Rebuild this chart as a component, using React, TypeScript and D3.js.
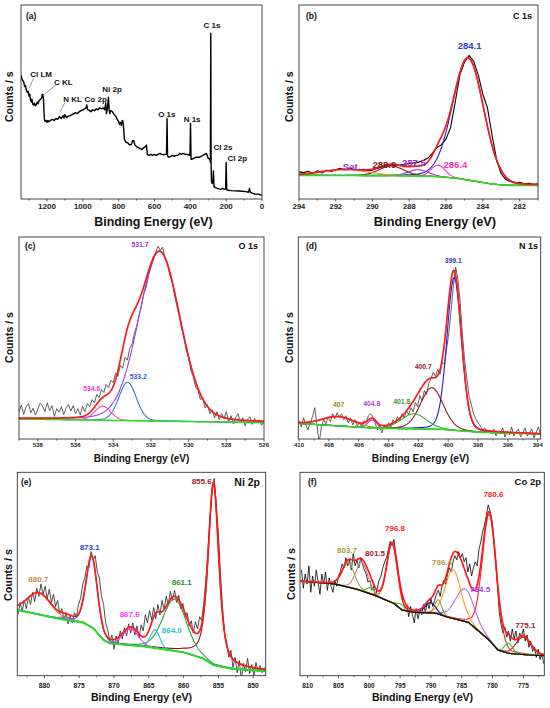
import React from "react";
import * as d3 from "d3";

const FONT = "'Liberation Sans', Arial, Helvetica, sans-serif";

// ---------------- (a) survey ----------------
const surveyEV = [1345,1340,1335,1330,1325,1320,1315,1310,1305,1300,1296,1292,1288,1284,1280,1275,1270,1265,1260,1255,1250,1245,1240,1235,1230,1226,1222,1219,1217,1214,1210,1205,1200,1195,1190,1180,1170,1160,1150,1140,1130,1120,1110,1105,1100,1090,1080,1070,1060,1050,1040,1030,1020,1010,1000,990,982,978,974,965,955,945,935,925,915,905,895,885,878,872,868,862,857,853,849,845,835,825,815,808,800,795,790,785,780,776,772,768,762,750,740,730,722,715,710,700,690,680,670,660,650,645,640,630,620,610,600,590,580,570,560,550,540,533,530,527,520,510,500,490,480,470,460,450,440,430,420,410,402,399,396,390,380,370,360,350,340,330,320,310,300,292,288,286,284,282,278,274,271,268,262,250,240,230,220,210,203,200,197,190,170,150,130,110,90,75,70,65,55,40,25,10,0];
const surveyCounts = [64,62,61,60.5,58,58.5,56,55,55.5,53,54,51,50,51.5,49,48.5,49.5,48,48.5,50,49,50.5,51,51.5,52,54,53.5,51,45,41,40,40.5,39.5,40.5,39.8,40.5,41,40.5,41.5,41,42.5,41.5,43,41.8,43.5,42,42.8,43,43.5,44,44.5,44,45,45.5,46,46.5,47,48.5,46,45.8,45,46,45.5,46.5,46,47,46.5,47,46,49.5,44,47,52.5,46,44,45.5,45,43.5,42.5,41,40,38.5,39.5,38,40.5,40,36,31,29.5,29,28,28,30,30,28,27,26.5,26,25.5,26.5,27,27.8,23,22.5,23,22.5,23,22.5,23,23.5,23,22.8,23,23,41.5,22,21.5,22,22.5,22,22.5,22.5,23.5,23,23.5,23,23,22.8,22.5,39,20.5,20.5,21,21.5,21.5,21.5,22,22.5,23,23.5,21,20.5,19,85.5,18,9,8,9,14.5,6.5,6,5.5,5.2,5,5.5,5,5.2,19,4.8,4.5,4.3,4.2,4.1,4,3.8,3.5,5.5,3.5,3,2.6,2.5,2.2,2];
const surveyLabels = ["Cl LM", "C KL", "N KL", "Co 2p", "Ni 2p", "O 1s", "N 1s", "C 1s", "Cl 2s", "Cl 2p"];
const surveyLabelEV = [1233, 1109, 1057, 928, 837, 531, 390, 279, 218, 138];
const surveyLabelVal = [63, 58.8, 50.2, 50.2, 55.4, 42.5, 39.8, 88, 25.5, 19.8];
const surveyArrowFromEV = [1276, 1150, 1099];
const surveyArrowFromVal = [62.2, 58.8, 49.8];
const surveyArrowToEV = [1299, 1224, 1127];
const surveyArrowToVal = [57.1, 53.2, 45];

// ---------------- (b) C 1s ----------------
const c1sStart = 294, c1sStep = 0.25;
const c1sCounts = [14.0,13.6,14.3,13.2,14.5,13.4,14.8,14.2,15.1,15.8,
  15.0,16.0,15.2,14.8,15.3,14.6,14.9,15.8,16.4,17.2,
  17.6,17.0,17.5,17.9,18.3,18.6,19.0,19.8,21.0,23.5,
  26.5,28.0,31.0,37.0,50.0,64.0,70.5,74.0,71.0,64.0,
  54.0,47.0,33.0,20.0,13.0,10.0,9.0,8.2,8.6,7.8,
  8.1,7.6,7.9];
const c1sBgEV = [294, 289, 286.8, 285.5, 284.4, 283.5, 282.6, 281];
const c1sBgVal = [12.2, 12.0, 11.7, 10.8, 9.1, 7.7, 7.0, 7.0];
const c1sCenters = [284.8, 286.43, 287.52, 288.97, 291.5];
const c1sHeights = [63, 6, 3.3, 5, 3];
const c1sFwhm = [2.0, 0.9, 1.3, 1.6, 3.0];
const c1sLabels = ["284.1", "Sat.", "288.9", "287.5", "286.4"];
const c1sLabelEV = [284.72, 291.14, 289.36, 287.75, 285.49];
const c1sLabelVal = [77.3, 14.7, 15.8, 17.0, 15.8];

// ---------------- (c) O 1s ----------------
const o1sStart = 539, o1sStep = 0.125;
const o1sCounts = [13.5,16.8,12.2,15.9,17.5,13.0,15.2,11.8,14.9,17.8,
  16.2,13.5,17.9,14.0,16.5,11.2,15.0,13.2,16.0,12.0,
  15.5,17.0,13.8,16.5,12.5,15.0,11.8,16.2,13.5,17.5,
  16.0,19.5,18.0,22.0,20.5,24.5,23.0,27.0,25.5,29.0,
  28.0,32.5,31.0,36.5,35.0,40.5,39.0,45.0,47.0,52.5,
  56.0,61.5,66.0,72.0,75.0,81.0,85.0,88.5,92.0,95.5,
  93.5,95.0,89.0,87.5,81.0,78.0,71.5,66.0,61.0,55.0,
  50.5,44.0,40.5,33.5,31.0,25.5,24.0,19.5,20.5,15.5,
  17.0,12.5,14.5,10.5,13.5,9.5,12.5,10.0,13.5,8.5,
  11.5,7.5,10.8,12.5,8.0,10.5,6.5,9.8,11.0,7.2,
  10.2,8.0,9.5,6.8,9.0];
const o1sBgEV = [539, 526];
const o1sBgVal = [9.9, 8.1];
const o1sCenters = [531.55, 533.24, 534.56];
const o1sHeights = [84, 19, 7];
const o1sFwhm = [2.6, 1.09, 1.0];
const o1sLabels = ["531.7", "533.2", "534.6"];
const o1sLabelEV = [532.58, 532.67, 535.14];
const o1sLabelVal = [95.2, 29.5, 23.9];

// ---------------- (d) N 1s ----------------
const n1sStart = 410, n1sStep = 0.15;
const n1sCounts = [9,6,10.5,7,4.5,8,11,15.5,7,-2,
  6,9.5,7.5,11,8.5,12.5,10,13,11,12.5,
  9.5,11.5,8,10.5,7,9.5,6.5,8,6,9,
  8.5,11.5,12.5,11,8,4.5,7,3,6.5,5,
  8,6,9.5,8,11,9,12.5,10.5,14,12,
  15.5,13.5,18,16,21.5,19,24,22,27.5,30,
  33,31,34.5,32,38,37,45,53,64,76,
  85,79,68,52,39,30,21,17,12.5,10,
  8,6.5,4.5,5.5,3,4.5,2.5,5,1.5,4,
  2.5,5.5,1,4,2,6,1.5,3.5,5,1,
  3,5.5,1.5,3,5,0.5,3.5,6,2];
const n1sBgEV = [410.05, 404.9, 400.5, 397.8, 393.8];
const n1sBgVal = [7.7, 5.3, 4.8, 3.3, 2.5];
const n1sCenters = [399.6, 401.1, 402.3, 405.1, 407.4];
const n1sHeights = [75.5, 20.5, 7.5, 4, 4.5];
const n1sFwhm = [1.15, 1.8, 2.0, 0.7, 2.5];
const n1sLabels = ["399.1", "400.7", "401.8", "404.8", "407"];
const n1sLabelEV = [399.66, 401.67, 403.12, 405.13, 407.34];
const n1sLabelVal = [87, 34.8, 17.3, 16.5, 15.7];

// ---------------- (e) Ni 2p ----------------
const ni2pStart = 883.8, ni2pStep = 0.3;
const ni2pCounts = [30,36,31.5,37,33,38.5,35,41,36.5,43,
  39,45,40,44,38,42.5,36,40,34,37,
  30.5,33,27.5,31,25.5,29.5,26,31,29,35,
  38,45,48,54,53,61,57,59,51,48,
  39,35,26,22.5,17,20,13,19.5,16,22,
  18,23.5,19.5,25.5,21,26,20,24.5,18.5,25,
  22,30,26,32,27.5,33.5,28,35,30,37,
  32.5,39,35,41.5,37,42,36,39.5,33,35.5,
  29,31,24.5,27,21,26.5,23,29,27,36,
  47,62,78,92,97,84,70,50,33,21,
  16,9,12.5,4,9,1.5,7.5,-1.5,6,2,
  8.5,1,5.5,0,6.5,2,5,1.5,4];
const ni2pBgEV = [883.9, 877.3, 874.4, 873, 871.5, 870.6, 865.5, 860, 857.2, 855.7, 852.9, 848.2];
const ni2pBgVal = [32.3, 27.6, 26.1, 23.3, 17.5, 15.9, 14.3, 11.5, 8.5, 5.2, 3.3, 2.3];
const ni2pCenters = [855.7, 861.3, 864.1, 867.6, 873.2, 880.8, 876.8];
const ni2pHeights = [89, 25.5, 9, 8, 35, 10.5, 1.5];
const ni2pFwhm = [1.8, 4.0, 1.6, 2.6, 1.9, 4.0, 2.0];
const ni2pMix = [0.55, 0.2, 0.1, 0.1, 0.25, 0.1, 0.1];
const ni2pLabels = ["855.6", "873.1", "880.7", "861.1", "867.6", "864.0"];
const ni2pLabelEV = [857.4, 873.5, 880.88, 860.27, 867.75, 861.7];
const ni2pLabelVal = [94.1, 61.8, 45.9, 44.6, 29, 20.8];

// ---------------- (f) Co 2p ----------------
const co2pStart = 811.0, co2pStep = 0.3;
const co2pCounts = [52,43,50,45,54,41,49,44,52,46,
  40,50,45,51,42,48,44,41,47,44,
  49,51,55,53,58,54,57,52,60,54,
  57,53,58,55,52,50,46,47,42,44,
  39,43,47,49,53,56,58,62,66,64,
  67,60,54,46,40,36,33,35,29,34,
  30,26,33,28,32,30,35,31,36,33,
  38,34,37,40,42,39,44,47,45,50,
  53,51,56,59,57,61,58,60,56,58,
  51,55,49,53,56,54,62,66,71,74,
  79,84,81,76,68,57,44,31,25,21,
  24,19,22,17,23,18,22,16,21,19,
  23,17,20,14,17,12,14,9,13,8,
  11,6];
const co2pBgEV = [811.24, 805.6, 802, 799.1, 796, 794.7, 792.6, 789.3, 787.2, 783.9, 780.7, 779.1, 777.4, 774.2, 771.6];
const co2pBgVal = [46.5, 45.1, 42.5, 39.5, 35.5, 32.3, 31.1, 30.8, 28.7, 26.2, 17.9, 12.6, 11, 10.2, 9.8];
const co2pCenters = [780.5, 784.5, 786.4, 788.8, 790.1, 794.8, 796.3, 799.8, 801.2, 803.4, 777.4, 775.0];
const co2pHeights = [62, 16, 24, 7, 5, 2.5, 29, 3, 14, 12, 5, 8.5];
const co2pFwhm = [2.7, 3.6, 3.0, 1.3, 2.0, 1.5, 2.0, 1.5, 2.3, 2.3, 1.5, 2.8];
const co2pLabels = ["780.6", "796.8", "803.7", "801.5", "786.4", "784.5", "775.1"];
const co2pLabelEV = [779.86, 795.82, 803.61, 799.07, 788.19, 782.02, 774.67];
const co2pLabelVal = [88, 71.3, 60.5, 59, 54.4, 41.3, 23.3];

// ---------------- styles ----------------
const c1sColors = ["#1c1cd6", "#ff33cc", "#9b30d9", "#8b1a1a", "#ff8c3a"];
const c1sLabelColors = ["#2b3fd6", "#9933cc", "#8b1a2a", "#a020c0", "#ff33cc"];
const o1sColors = ["#9a3cf0", "#2b7fc8", "#ff3fbf"];
const o1sLabelColors = ["#9933cc", "#3355dd", "#ff33cc"];
const n1sColors = ["#1a1ae6", "#8b1a1a", "#2cb52c", "#b040e0", "#a08a20"];
const n1sLabelColors = ["#3333cc", "#a01c2c", "#2ca02c", "#b040e0", "#a08a20"];
const ni2pColors = ["#8b0f1a", "#2e9a40", "#20c8c8", "#ff33ff", "#1f77d4", "#d0803a", "#a050e0"];
const ni2pLabelColors = ["#a01c2c", "#2b3fd6", "#c09040", "#2e8b30", "#ff33ff", "#20c8c8"];
const co2pColors = ["#ff2020", "#b070e0", "#ff9a20", "#a0a020", "#0a0a9a", "#20d020", "#ff2020", "#20d020", "#c08a8a", "#9a9a40", "#20d020", "#c02030"];
const co2pLabelColors = ["#ff2020", "#ff2020", "#a0a030", "#a02030", "#b0a040", "#a040ff", "#a02030"];

function pv(x: number, c: number, h: number, w: number, eta: number) {
  const d = x - c;
  const r = (d * d) / (w * w);
  return h * ((1 - eta) * Math.exp(-4 * Math.LN2 * r) + eta / (1 + 4 * r));
}

type Comp = { c: number; h: number; w: number; eta: number; color: string };
type Lab = { text: string; ev: number; val: number; color: string };
type Spec = {
  id: string;
  box: { l: number; r: number; t: number; b: number };
  domain: [number, number];
  major: number;
  minor: number;
  tickFont: number;
  tickBase: number;
  xTitle: [number, number, number];
  yTitle: [number, number, number];
  tag: string;
  tagPos: [number, number];
  title?: string;
  titlePos?: [number, number];
  titleSize?: number;
  raw: [number, number][];
  rawColor: string;
  rawWidth: number;
  bg?: { ev: number[]; val: number[]; color: string; width: number };
  comps?: Comp[];
  envelope?: string;
  labels: Lab[];
  labelSize: number;
  arrows?: { x1: number; y1: number; x2: number; y2: number }[];
};

function Panel({ s }: { s: Spec }) {
  const { box } = s;
  const x = d3.scaleLinear().domain(s.domain).range([box.l, box.r]);
  const y = d3.scaleLinear().domain([0, 100]).range([box.b, box.t]);
  const lo = Math.min(s.domain[0], s.domain[1]);
  const hi = Math.max(s.domain[0], s.domain[1]);
  const majors = d3.range(Math.ceil(lo / s.major - 1e-9) * s.major, hi + 1e-9, s.major);
  const minors = d3
    .range(Math.ceil(lo / s.minor - 1e-9) * s.minor, hi + 1e-9, s.minor)
    .filter((v) => Math.abs(v / s.major - Math.round(v / s.major)) > 1e-6);
  const line = d3
    .line<[number, number]>()
    .x((d) => x(d[0]))
    .y((d) => y(d[1]));
  const n = 500;
  const xs = d3.range(n + 1).map((i) => lo + ((hi - lo) * i) / n);
  let bgF: ((v: number) => number) | null = null;
  if (s.bg) {
    const sc = d3.scaleLinear().domain(s.bg.ev).range(s.bg.val).clamp(true);
    bgF = (v: number) => sc(v);
  }
  const bgAt = (v: number) => (bgF ? bgF(v) : 0);
  const comps = s.comps || [];
  const clip = `clip-${s.id}`;
  return (
    <g>
      <defs>
        <clipPath id={clip}>
          <rect x={box.l} y={box.t} width={box.r - box.l} height={box.b - box.t} />
        </clipPath>
      </defs>
      <g clipPath={`url(#${clip})`}>
        <path d={line(s.raw) || ""} fill="none" stroke={s.rawColor} strokeWidth={s.rawWidth} strokeLinejoin="round" />
        {comps.map((c, i) => (
          <path
            key={i}
            d={line(xs.map((v) => [v, bgAt(v) + pv(v, c.c, c.h, c.w, c.eta)] as [number, number])) || ""}
            fill="none"
            stroke={c.color}
            strokeWidth={1.1}
          />
        ))}
        {s.bg && (
          <path
            d={line(xs.map((v) => [v, bgAt(v)] as [number, number])) || ""}
            fill="none"
            stroke={s.bg.color}
            strokeWidth={s.bg.width}
          />
        )}
        {s.envelope && (
          <path
            d={
              line(
                xs.map(
                  (v) =>
                    [v, bgAt(v) + d3.sum(comps, (c) => pv(v, c.c, c.h, c.w, c.eta))] as [number, number]
                )
              ) || ""
            }
            fill="none"
            stroke={s.envelope}
            strokeWidth={1.7}
          />
        )}
      </g>
      <rect x={box.l} y={box.t} width={box.r - box.l} height={box.b - box.t} fill="none" stroke="#333" strokeWidth={0.9} />
      {majors.map((v) => (
        <g key={"M" + v}>
          <line x1={x(v)} x2={x(v)} y1={box.b} y2={box.b + 2.5} stroke="#333" strokeWidth={0.8} />
          <text x={x(v)} y={s.tickBase} fontSize={s.tickFont} fontWeight="bold" textAnchor="middle" fill="#222">
            {d3.format("d")(v)}
          </text>
        </g>
      ))}
      {minors.map((v) => (
        <line key={"m" + v} x1={x(v)} x2={x(v)} y1={box.b} y2={box.b + 1.6} stroke="#333" strokeWidth={0.7} />
      ))}
      <text x={s.xTitle[0]} y={s.xTitle[1]} fontSize={s.xTitle[2]} fontWeight="bold" textAnchor="middle" fill="#111">
        Binding Energy (eV)
      </text>
      <text
        transform={`translate(${s.yTitle[0]},${s.yTitle[1]}) rotate(-90)`}
        fontSize={s.yTitle[2]}
        fontWeight="bold"
        textAnchor="middle"
        fill="#111"
      >
        Counts / s
      </text>
      <text x={s.tagPos[0]} y={s.tagPos[1]} fontSize={8.5} fontWeight="bold" fill="#111">
        {s.tag}
      </text>
      {s.title && s.titlePos && (
        <text x={s.titlePos[0]} y={s.titlePos[1]} fontSize={s.titleSize} fontWeight="bold" textAnchor="end" fill="#111">
          {s.title}
        </text>
      )}
      {s.labels.map((l, i) => (
        <text key={"l" + i} x={x(l.ev)} y={y(l.val)} fontSize={s.labelSize} fontWeight="bold" textAnchor="middle" fill={l.color}>
          {l.text}
        </text>
      ))}
      {(s.arrows || []).map((a, i) => (
        <line key={"a" + i} x1={x(a.x1)} y1={y(a.y1)} x2={x(a.x2)} y2={y(a.y2)} stroke="#555" strokeWidth={0.6} />
      ))}
    </g>
  );
}

function series(start: number, step: number, vals: number[]): [number, number][] {
  return vals.map((v, i) => [start - i * step, v] as [number, number]);
}
function comps(c: number[], h: number[], w: number[], eta: number[] | number, colors: string[]): Comp[] {
  return c.map((cc, i) => ({ c: cc, h: h[i], w: w[i], eta: Array.isArray(eta) ? eta[i] : eta, color: colors[i] }));
}
function labs(t: string[], ev: number[], val: number[], colors: string[]): Lab[] {
  return t.map((tt, i) => ({ text: tt, ev: ev[i], val: val[i], color: colors[i] }));
}

export default function App() {
  const specs: Spec[] = [
    {
      id: "a",
      box: { l: 21, r: 262, t: 5, b: 199 },
      domain: [1345, 0],
      major: 200,
      minor: 100,
      tickFont: 8,
      tickBase: 208.5,
      xTitle: [153.5, 225.5, 12.4],
      yTitle: [13.3, 96.7, 10.5],
      tag: "(a)",
      tagPos: [26, 19],
      raw: surveyEV.map((e, i) => [e, surveyCounts[i]] as [number, number]),
      rawColor: "#000",
      rawWidth: 1.4,
      labels: labs(surveyLabels, surveyLabelEV, surveyLabelVal, surveyLabels.map(() => "#111")),
      labelSize: 8,
      arrows: surveyArrowFromEV.map((e, i) => ({ x1: e, y1: surveyArrowFromVal[i], x2: surveyArrowToEV[i], y2: surveyArrowToVal[i] })),
    },
    {
      id: "b",
      box: { l: 299, r: 538, t: 5, b: 199 },
      domain: [294, 281],
      major: 2,
      minor: 1,
      tickFont: 7.5,
      tickBase: 208.5,
      xTitle: [435, 225.5, 12.8],
      yTitle: [293, 96.7, 10.5],
      tag: "(b)",
      tagPos: [306, 19],
      title: "C 1s",
      titlePos: [532, 19],
      titleSize: 9,
      raw: series(c1sStart, c1sStep, c1sCounts),
      rawColor: "#000",
      rawWidth: 1.1,
      bg: { ev: c1sBgEV, val: c1sBgVal, color: "#22e022", width: 1.6 },
      comps: comps(c1sCenters, c1sHeights, c1sFwhm, 0.1, c1sColors),
      envelope: "#ff1a1a",
      labels: labs(c1sLabels, c1sLabelEV, c1sLabelVal, c1sLabelColors),
      labelSize: 9.5,
    },
    {
      id: "c",
      box: { l: 19, r: 264, t: 237, b: 439 },
      domain: [539, 526],
      major: 2,
      minor: 1,
      tickFont: 6,
      tickBase: 447,
      xTitle: [141.5, 461.5, 10],
      yTitle: [13.3, 337.5, 10.5],
      tag: "(c)",
      tagPos: [25, 249],
      title: "O 1s",
      titlePos: [258, 249],
      titleSize: 9,
      raw: series(o1sStart, o1sStep, o1sCounts),
      rawColor: "#3a3a3a",
      rawWidth: 0.8,
      bg: { ev: o1sBgEV, val: o1sBgVal, color: "#22e022", width: 1.5 },
      comps: comps(o1sCenters, o1sHeights, o1sFwhm, [0.15, 0.1, 0.1], o1sColors),
      envelope: "#ff1a1a",
      labels: labs(o1sLabels, o1sLabelEV, o1sLabelVal, o1sLabelColors),
      labelSize: 6.8,
    },
    {
      id: "d",
      box: { l: 298.3, r: 540.7, t: 237, b: 439 },
      domain: [410.05, 393.8],
      major: 2,
      minor: 1,
      tickFont: 6,
      tickBase: 447,
      xTitle: [420.5, 461.5, 10.2],
      yTitle: [293, 337.5, 10.5],
      tag: "(d)",
      tagPos: [306, 249],
      title: "N 1s",
      titlePos: [538, 249],
      titleSize: 9,
      raw: series(n1sStart, n1sStep, n1sCounts),
      rawColor: "#3a3a3a",
      rawWidth: 0.8,
      bg: { ev: n1sBgEV, val: n1sBgVal, color: "#22e022", width: 1.5 },
      comps: comps(n1sCenters, n1sHeights, n1sFwhm, 0.15, n1sColors),
      envelope: "#ff1a1a",
      labels: labs(n1sLabels, n1sLabelEV, n1sLabelVal, n1sLabelColors),
      labelSize: 6.8,
    },
    {
      id: "e",
      box: { l: 17.3, r: 265.7, t: 472.3, b: 675.7 },
      domain: [883.9, 848.2],
      major: 5,
      minor: 2.5,
      tickFont: 6.8,
      tickBase: 687.5,
      xTitle: [141.5, 700.5, 10.6],
      yTitle: [12.3, 575, 10.8],
      tag: "(e)",
      tagPos: [21, 485],
      title: "Ni 2p",
      titlePos: [260, 486],
      titleSize: 10.5,
      raw: series(ni2pStart, ni2pStep, ni2pCounts),
      rawColor: "#222",
      rawWidth: 0.8,
      bg: { ev: ni2pBgEV, val: ni2pBgVal, color: "#22e022", width: 1.9 },
      comps: comps(ni2pCenters, ni2pHeights, ni2pFwhm, ni2pMix, ni2pColors),
      envelope: "#ff1a1a",
      labels: labs(ni2pLabels, ni2pLabelEV, ni2pLabelVal, ni2pLabelColors),
      labelSize: 8,
    },
    {
      id: "f",
      box: { l: 300, r: 544.3, t: 472.3, b: 675.7 },
      domain: [811.24, 771.6],
      major: 5,
      minor: 2.5,
      tickFont: 6.5,
      tickBase: 688,
      xTitle: [422.5, 700.5, 10.6],
      yTitle: [295, 574, 10.8],
      tag: "(f)",
      tagPos: [308, 485],
      title: "Co 2p",
      titlePos: [541, 485],
      titleSize: 9.5,
      raw: series(co2pStart, co2pStep, co2pCounts),
      rawColor: "#000",
      rawWidth: 0.8,
      bg: { ev: co2pBgEV, val: co2pBgVal, color: "#111", width: 1.2 },
      comps: comps(co2pCenters, co2pHeights, co2pFwhm, 0.15, co2pColors),
      envelope: "#ff1a1a",
      labels: labs(co2pLabels, co2pLabelEV, co2pLabelVal, co2pLabelColors),
      labelSize: 8,
    },
  ];
  return (
    <svg
      width={550}
      height={708}
      viewBox="0 0 550 708"
      style={{ position: "absolute", left: 0, top: 0, background: "#fff" }}
      fontFamily={FONT}
    >
      <rect x={0} y={0} width={550} height={708} fill="#fff" />
      {specs.map((s) => (
        <Panel key={s.id} s={s} />
      ))}
    </svg>
  );
}
